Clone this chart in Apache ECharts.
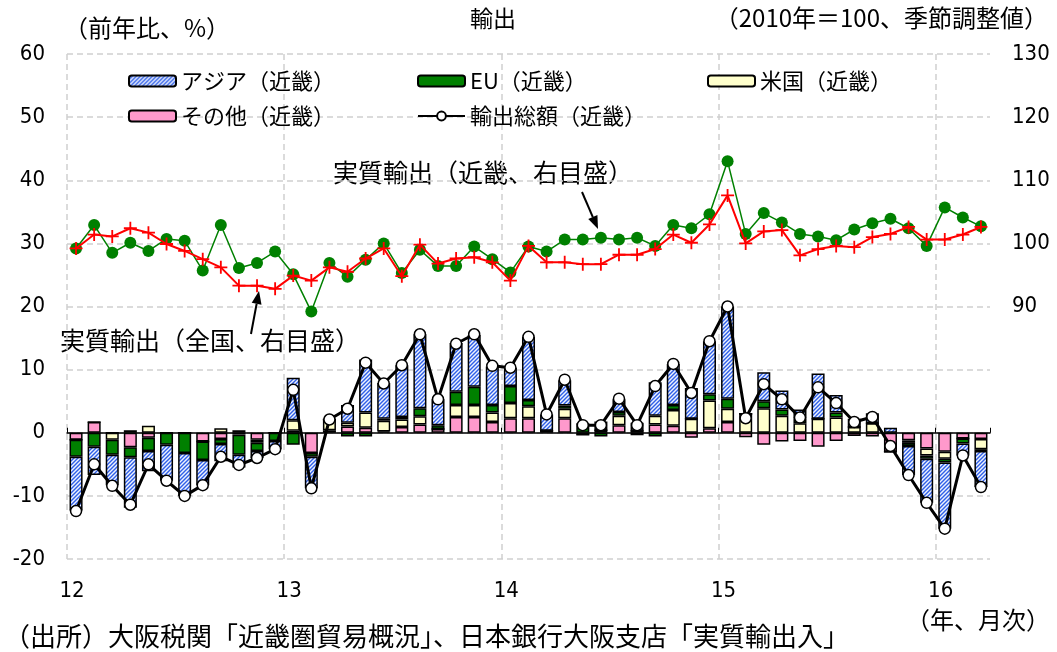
<!DOCTYPE html>
<html>
<head>
<meta charset="utf-8">
<title>輸出</title>
<script src="https://cdn.jsdelivr.net/npm/echarts@6/dist/echarts.min.js"></script>
<style>
  html, body { margin: 0; padding: 0; background: #fff; }
  #chart { width: 1057px; height: 652px; }
</style>
</head>
<body>
<div id="chart"></div>
<script>
// 2012/1 - 2016/3 (monthly)
const months = [];
for (let y = 2012; y <= 2016; y++) {
  for (let m = 1; m <= 12; m++) {
    if (y === 2016 && m > 3) break;
    months.push(y + '/' + m);
  }
}
const yearLabels = ['12', '13', '14', '15', '16'];

// 前年比寄与度 (%), 近畿
const asia = [-8.5, -4.5, -4.8, -8.0, -3.2, -5.7, -6.8, -4.0, -2.7, -2.0, -1.1, -1.3,
  6.7, -5.0, 0, 2.8, 8.4, 5.7, 8.2, 11.7, 4.1, 7.7, 8.2, 6.1,
  2.9, 10.0, 2.6, 4.0, 0.4, 1.4, 2.0, 1.3, 5.3, 6.5, 4.9, 8.4,
  14.6, 0, 4.6, 3.0, 1.5, 7.2, 2.8, 1.3, 1.6, 0.8, -4.6, -7.0,
  -10.5, -1.9, -5.7];
const eu = [-2.7, -2.2, -2.4, -1.6, -2.1, -1.9, -3.2, -2.9, -0.8, -3.2, -1.3, -1.3,
  -1.9, -0.6, 0, -0.6, -0.6, 0.3, 0.4, 1.3, 0.6, 2.1, 2.9, 1.2,
  2.7, 1.0, 0, 0.5, 1.1, -0.6, 0.6, -0.4, -0.6, 0.8, 0, 1.0,
  1.6, 0, 1.1, 1.0, 0.7, 0, 0.8, 0, 0, 0, -0.5, -0.5,
  -0.6, -0.8, -0.3];
const usa = [0, 0, -1.1, 0.4, 1.1, 0, 0, 0, 0.7, 0.4, -0.5, 0,
  1.7, 0, 1.7, 0.6, 2.4, 1.7, 1.2, 1.3, 0, 1.9, 1.9, 1.5,
  2.4, 1.9, 0, 1.5, 0, 0, 1.5, 0, 1.4, 2.5, 2.2, 4.4,
  2.1, 3.0, 3.9, 2.7, 1.5, 2.2, 2.4, 0.9, 1.5, 0, -0.4, -1.1,
  -1.1, 0, -1.6];
const other = [-1.1, 1.7, 0, -2.3, -0.8, 0, 0, -1.4, -1.0, -0.3, -1.1, 0,
  0.3, -3.2, 0.4, 1.0, 0.8, 0.2, 0.9, 1.3, 0.6, 2.5, 2.5, 1.7,
  2.3, 2.3, 0.3, 2.3, -0.3, 0.4, 1.2, 0.3, 1.3, 1.1, -0.8, 0.7,
  1.7, -0.7, -1.9, -1.4, -1.3, -2.2, -1.3, -0.5, -0.6, -3.0, -1.2, -2.5,
  -3.0, -0.9, -1.0];
const total = [-12.4, -5.0, -8.4, -11.4, -5.0, -7.6, -10.0, -8.3, -3.8, -5.1, -4.0, -2.6,
  6.8, -8.8, 2.1, 3.8, 11.1, 7.8, 10.7, 15.6, 5.3, 14.1, 15.6, 10.6,
  10.3, 15.2, 2.9, 8.4, 1.2, 1.2, 5.4, 1.2, 7.4, 10.9, 6.3, 14.5,
  20.0, 2.3, 7.7, 5.3, 2.4, 7.2, 4.7, 1.7, 2.5, -2.1, -6.7, -11.1,
  -15.2, -3.6, -8.6];

// 実質輸出 (2010年=100、季節調整値)
const realKinki = [99.2, 102.9, 98.5, 100.1, 98.8, 100.7, 100.4, 95.7, 102.9, 96.1, 96.9, 98.7,
  95.1, 89.2, 96.9, 94.7, 97.4, 100.0, 95.3, 99.0, 96.4, 96.4, 99.5, 97.5,
  95.4, 99.5, 98.7, 100.6, 100.6, 100.9, 100.6, 100.9, 99.6, 102.9, 102.4, 104.6,
  113.0, 101.5, 104.8, 103.3, 101.5, 101.1, 100.5, 102.2, 103.2, 103.9, 102.4, 99.6,
  105.7, 104.1, 102.7];
const realJapan = [99.2, 101.4, 101.1, 102.4, 101.7, 99.9, 98.8, 97.5, 96.2, 93.3, 93.3, 92.8,
  94.9, 94.1, 96.2, 95.5, 97.6, 99.2, 94.8, 99.8, 96.8, 97.6, 97.8, 97.0,
  94.1, 99.6, 97.0, 97.0, 96.7, 96.7, 98.2, 98.2, 99.1, 101.4, 100.1, 103.0,
  107.6, 100.0, 101.9, 102.1, 98.1, 99.1, 99.6, 99.4, 101.0, 101.5, 102.6, 100.6,
  100.6, 101.4, 102.6];

const JP = '"Noto Sans CJK JP", sans-serif';
const NUM = '"Liberation Sans Narrow", "DejaVu Sans Condensed", "Noto Sans CJK JP", sans-serif';
const gridColor = '#cfcfcf';

// アジアの斜線パターン
function hatch() {
  const c = document.createElement('canvas');
  c.width = 4; c.height = 4;
  const g = c.getContext('2d');
  g.fillStyle = '#eef3ff';
  g.fillRect(0, 0, 4, 4);
  g.strokeStyle = '#2f5fe8';
  g.lineWidth = 1.4;
  g.beginPath();
  g.moveTo(0, 4); g.lineTo(4, 0);
  g.moveTo(-1, 1); g.lineTo(1, -1);
  g.moveTo(3, 5); g.lineTo(5, 3);
  g.stroke();
  return c;
}

function arrow(x1, y1, x2, y2) {
  const a = Math.atan2(y2 - y1, x2 - x1), L = 13, W = 5;
  const bx = x2 - L * Math.cos(a), by = y2 - L * Math.sin(a);
  return [
    { type: 'line', shape: { x1: x1, y1: y1, x2: bx, y2: by }, style: { stroke: '#000', lineWidth: 2 } },
    { type: 'polygon', shape: { points: [[x2, y2], [bx - W * Math.sin(a), by + W * Math.cos(a)], [bx + W * Math.sin(a), by - W * Math.cos(a)]] }, style: { fill: '#000' } }
  ];
}

function label(text, x, y, size, align) {
  return { type: 'text', x: x, y: y, style: { text: text, fontFamily: JP, fontSize: size, fill: '#000', align: align || 'left', verticalAlign: 'middle' } };
}

const barStyle = (color) => ({ color: color, borderColor: '#000', borderWidth: 1.5 });
const legendBase = {
  itemWidth: 47, itemHeight: 11, padding: 0,
  textStyle: { fontFamily: JP, fontSize: 22, color: '#000' }
};

const chart = echarts.init(document.getElementById('chart'));
chart.setOption({
  animation: false,
  backgroundColor: '#fff',
  grid: { left: 67, right: 67, top: 54, bottom: 93 },
  legend: [
    Object.assign({}, legendBase, { data: ['アジア（近畿）'], left: 128, top: 70 }),
    Object.assign({}, legendBase, { data: ['EU（近畿）'], left: 417, top: 70 }),
    Object.assign({}, legendBase, { data: ['米国（近畿）'], left: 707, top: 70 }),
    Object.assign({}, legendBase, { data: ['その他（近畿）'], left: 128, top: 105 }),
    Object.assign({}, legendBase, { data: ['輸出総額（近畿）'], left: 417, top: 105 })
  ],
  xAxis: [
    {
      type: 'category', data: months, boundaryGap: true,
      axisLine: { onZero: true, lineStyle: { color: '#000', width: 1.5 } },
      axisTick: { show: true, inside: true, length: 5, interval: (i) => i % 12 === 0, lineStyle: { color: '#000' } },
      axisLabel: { show: false },
      splitLine: { show: false }
    },
    {
      type: 'value', min: 0, max: months.length, interval: 12, position: 'bottom',
      axisLine: { show: false }, axisTick: { show: false },
      axisLabel: {
        margin: 21, fontFamily: NUM, fontSize: 22, color: '#000', padding: [0, 0, 0, 10],
        formatter: (v) => (v % 12 === 0 ? yearLabels[v / 12] : '')
      },
      splitLine: { show: true, lineStyle: { color: [gridColor, gridColor, gridColor, gridColor, gridColor, 'rgba(0,0,0,0)'], type: [6, 4], width: 1.5 } }
    }
  ],
  yAxis: [
    {
      type: 'value', min: -20, max: 60, interval: 10,
      axisLine: { show: false }, axisTick: { show: false },
      axisLabel: { margin: 22, fontFamily: NUM, fontSize: 22, color: '#000' },
      splitLine: { lineStyle: { color: gridColor, type: [6, 4], width: 1.5 } }
    },
    {
      type: 'value', min: 50, max: 130, interval: 10, position: 'right',
      axisLine: { show: false }, axisTick: { show: false },
      axisLabel: { margin: 22, fontFamily: NUM, fontSize: 22, color: '#000', formatter: (v) => (v >= 90 ? v : '') },
      splitLine: { show: false }
    }
  ],
  graphic: [
    label('（前年比、%）', 64, 28, 24),
    label('輸出', 493, 18, 23, 'center'),
    label('（2010年＝100、季節調整値）', 1048, 18, 24, 'right'),
    label('実質輸出（近畿、右目盛）', 333, 172, 25),
    label('実質輸出（全国、右目盛）', 60, 340, 25),
    label('（年、月次）', 1050, 620, 24, 'right'),
    label('（出所）大阪税関「近畿圏貿易概況」、日本銀行大阪支店「実質輸出入」', 4, 636, 26)
  ].concat(arrow(582, 192, 598, 229), arrow(251, 334, 259, 291)),
  series: [
    { name: 'その他（近畿）', type: 'bar', stack: 'kinki', data: other, barCategoryGap: '28%', itemStyle: barStyle('#ff99cc') },
    { name: '米国（近畿）', type: 'bar', stack: 'kinki', data: usa, itemStyle: barStyle('#ffffcc') },
    { name: 'EU（近畿）', type: 'bar', stack: 'kinki', data: eu, itemStyle: barStyle('#008000') },
    { name: 'アジア（近畿）', type: 'bar', stack: 'kinki', data: asia, itemStyle: barStyle({ image: hatch(), repeat: 'repeat' }) },
    {
      name: '輸出総額（近畿）', type: 'line', data: total, z: 5,
      symbol: 'circle', symbolSize: 11, showAllSymbol: true,
      lineStyle: { color: '#000', width: 3 },
      itemStyle: { color: '#fff', borderColor: '#000', borderWidth: 1.5 }
    },
    {
      name: '実質輸出（近畿）', type: 'line', yAxisIndex: 1, data: realKinki, z: 6,
      symbol: 'circle', symbolSize: 12, showAllSymbol: true,
      lineStyle: { color: '#008000', width: 1.5 },
      itemStyle: { color: '#008000' }
    },
    {
      name: '実質輸出（全国）', type: 'line', yAxisIndex: 1, data: realJapan, z: 7,
      symbol: 'path://M4.3,0h1.4v4.3h4.3v1.4h-4.3v4.3h-1.4v-4.3h-4.3v-1.4h4.3z', symbolSize: 13, showAllSymbol: true,
      lineStyle: { color: '#ff0000', width: 2 },
      itemStyle: { color: '#ff0000' }
    }
  ]
});
</script>
</body>
</html>
